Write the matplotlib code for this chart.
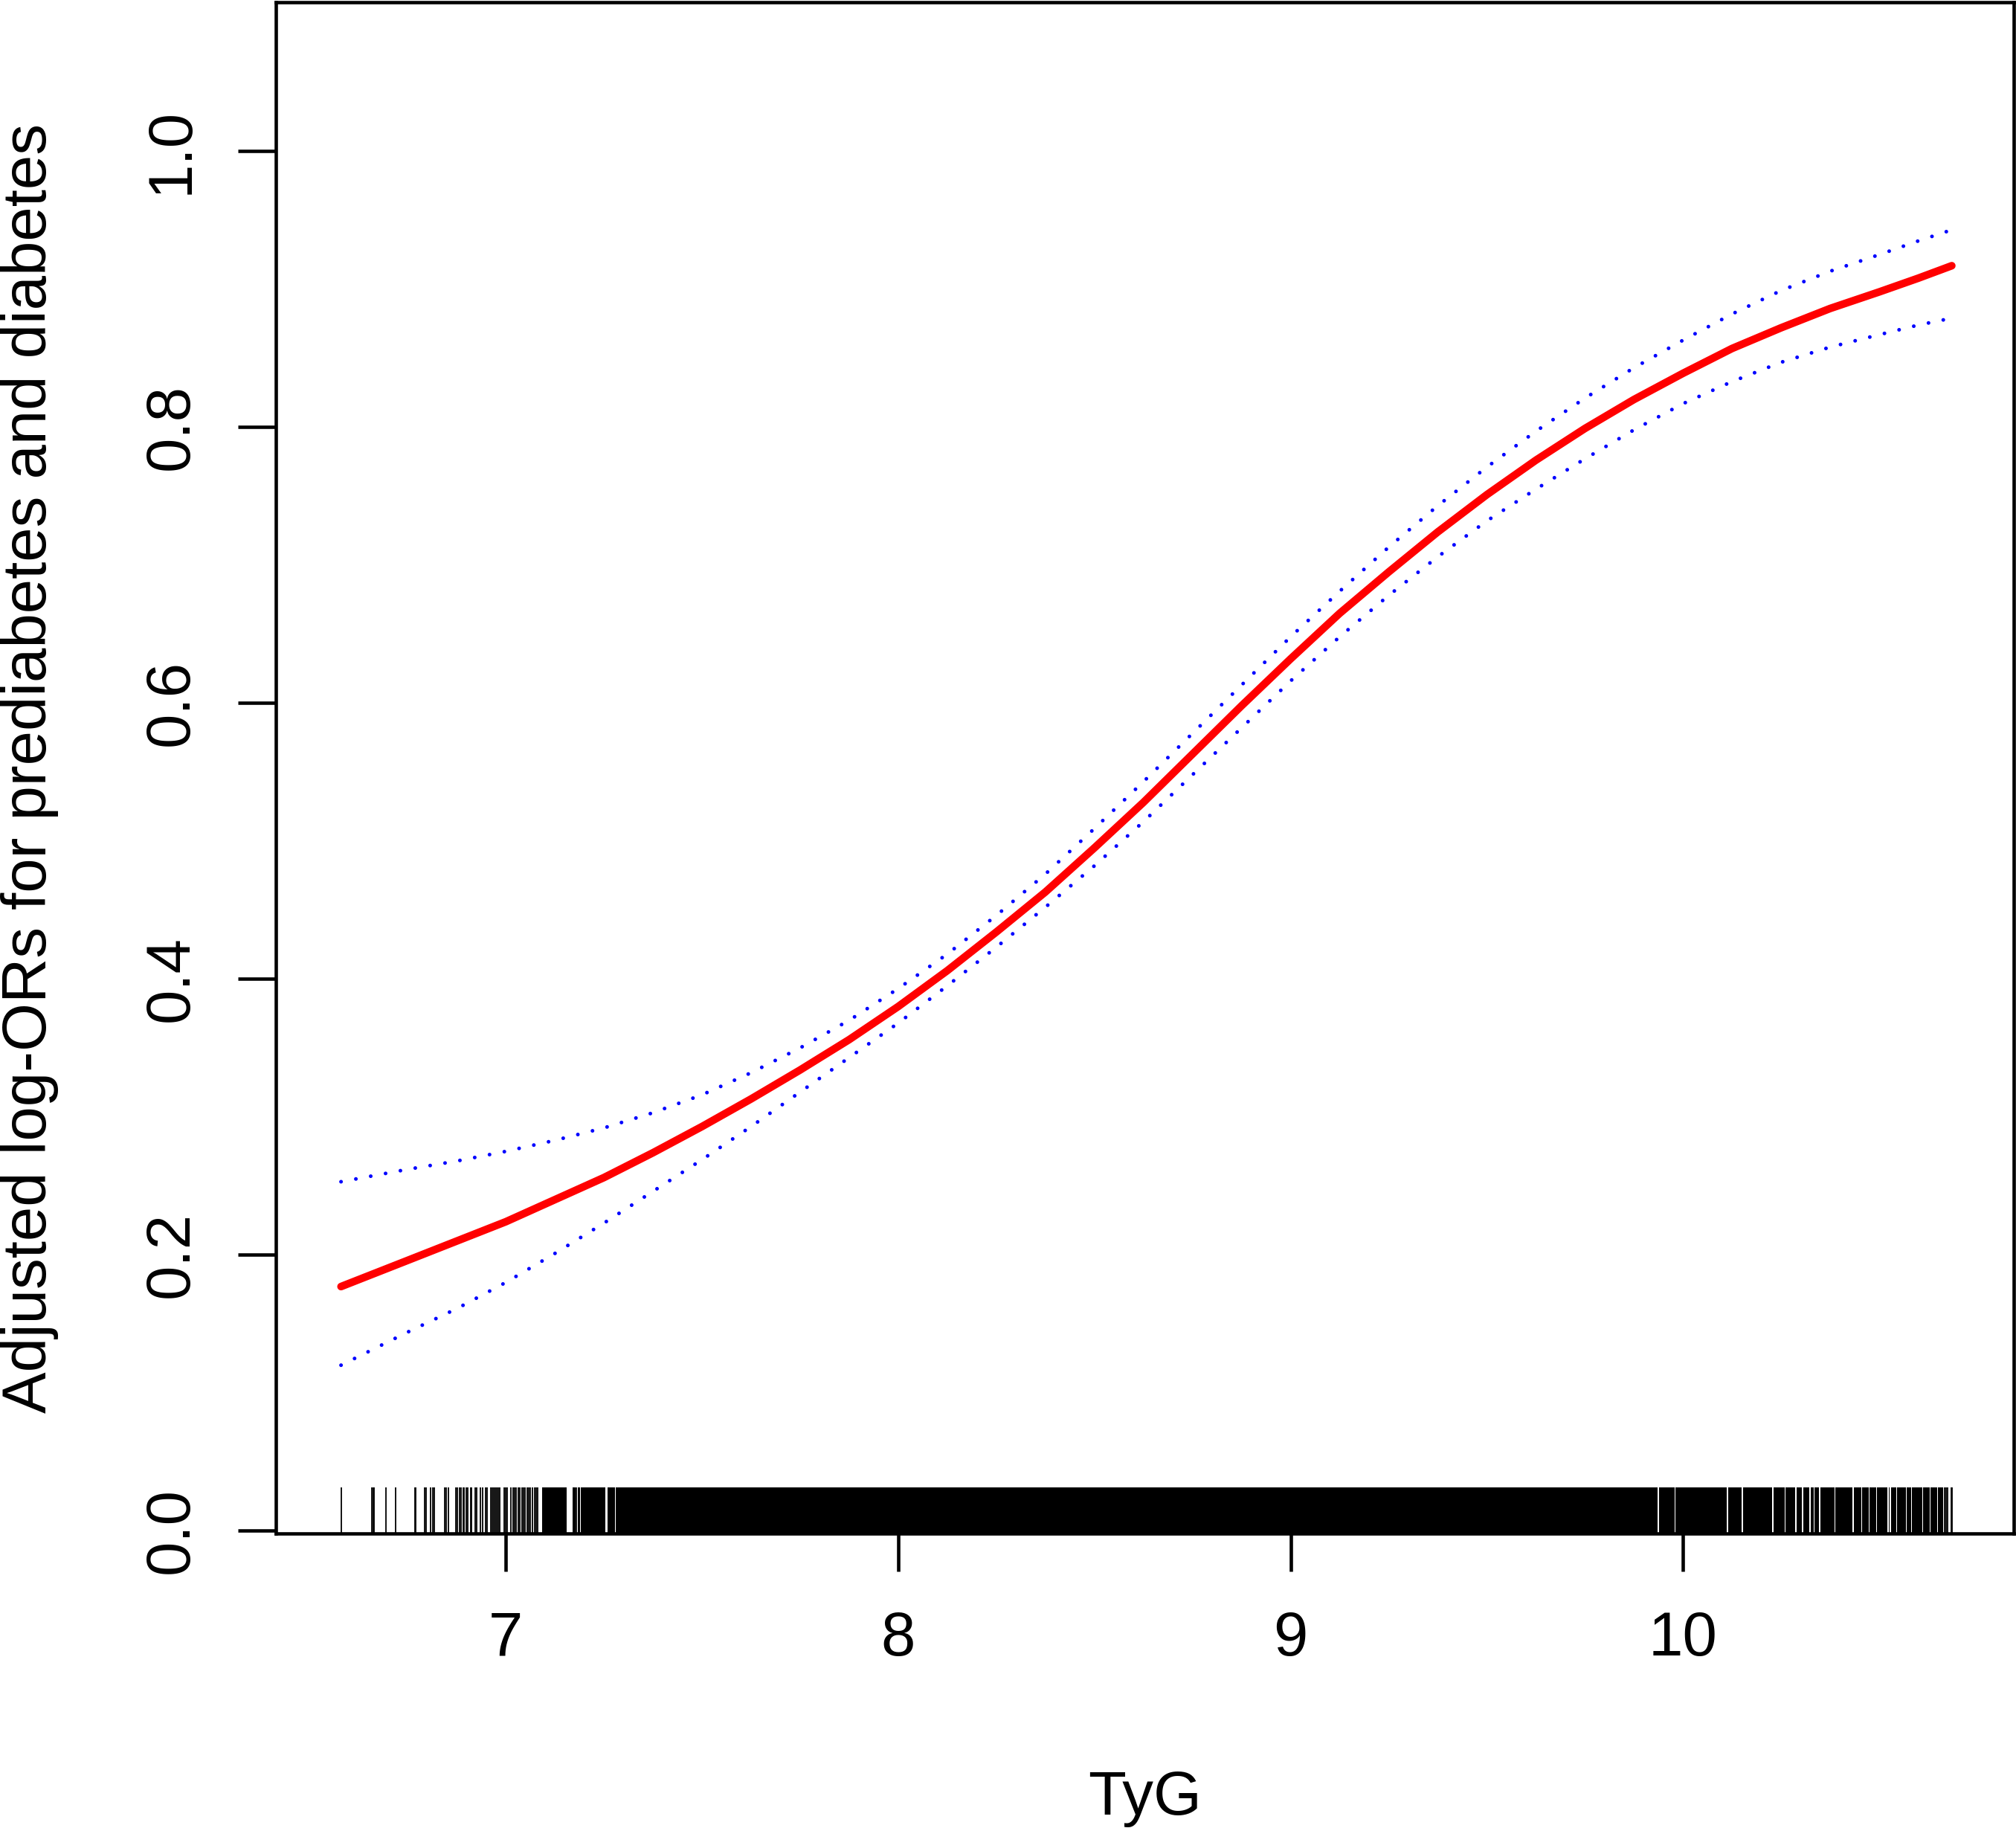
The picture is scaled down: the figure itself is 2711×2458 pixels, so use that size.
import matplotlib
matplotlib.use("Agg")
import matplotlib.pyplot as plt

plt.rcParams['font.family'] = ['Liberation Sans', 'DejaVu Sans']

# ---- data ----
tyg = [6.58, 6.75, 6.875, 7.0, 7.125, 7.25, 7.375, 7.5, 7.625, 7.75, 7.875,
       8.0, 8.125, 8.25, 8.375, 8.5, 8.625, 8.75, 8.875, 9.0, 9.125, 9.25,
       9.375, 9.5, 9.625, 9.75, 9.875, 10.0, 10.125, 10.25, 10.375, 10.5, 10.6, 10.685]
fit = [0.177, 0.196, 0.210, 0.224, 0.240, 0.256, 0.274, 0.293, 0.313, 0.334, 0.356,
       0.380, 0.406, 0.434, 0.463, 0.495, 0.528, 0.563, 0.598, 0.632, 0.665, 0.695,
       0.724, 0.751, 0.776, 0.799, 0.820, 0.839, 0.857, 0.872, 0.886, 0.898, 0.908, 0.917]
upper = [0.253, 0.262, 0.268, 0.275, 0.283, 0.292, 0.303, 0.316, 0.332, 0.350, 0.370,
         0.393, 0.418, 0.446, 0.476, 0.509, 0.543, 0.578, 0.613, 0.648, 0.681, 0.713,
         0.743, 0.771, 0.797, 0.821, 0.843, 0.863, 0.882, 0.899, 0.913, 0.925, 0.935, 0.943]
lower = [0.120, 0.144, 0.161, 0.180, 0.201, 0.223, 0.246, 0.269, 0.293, 0.318, 0.343,
         0.368, 0.395, 0.423, 0.452, 0.482, 0.514, 0.548, 0.582, 0.616, 0.648, 0.678,
         0.706, 0.732, 0.755, 0.777, 0.798, 0.817, 0.833, 0.847, 0.858, 0.867, 0.874, 0.879]

# rug: individual observations that can be told apart
rug_single = [6.581, 6.658, 6.662, 6.665, 6.695, 6.720, 6.768, 6.771, 6.793, 6.797,
              6.809, 6.814, 6.818, 6.845, 6.848, 6.853, 6.872, 6.876, 6.882, 6.886,
              6.891, 6.894, 6.899, 6.903, 6.910, 6.913, 6.922, 6.926, 6.935, 6.940,
              6.949, 6.953, 6.962, 6.966, 6.970, 6.973, 6.977, 6.981, 6.985, 6.995,
              6.999, 7.004, 7.013, 7.018, 7.023, 7.027, 7.032, 7.036, 7.041, 7.045,
              7.049, 7.054, 7.058, 7.063, 7.068, 7.073, 7.077, 7.081, 7.180,
              10.667, 10.671, 10.675, 10.683, 10.686]
# rug: stretches where observations are so dense the ticks merge
rug_band_start = [7.093, 7.171, 7.184, 7.191, 7.259, 7.281, 9.939, 9.981, 10.115, 10.153,
                  10.231, 10.262, 10.289, 10.306, 10.325, 10.336, 10.350, 10.389, 10.435,
                  10.457, 10.476, 10.495, 10.524, 10.530, 10.546, 10.571, 10.584, 10.612,
                  10.631, 10.650]
rug_band_end = [7.155, 7.177, 7.189, 7.253, 7.278, 9.936, 9.978, 10.112, 10.150, 10.228,
                10.259, 10.286, 10.303, 10.322, 10.333, 10.347, 10.386, 10.432, 10.454,
                10.473, 10.492, 10.521, 10.527, 10.543, 10.568, 10.581, 10.609, 10.628,
                10.647, 10.663]

x_ticks = [7, 8, 9, 10]
y_ticks = [0.0, 0.2, 0.4, 0.6, 0.8, 1.0]
y_tick_labels = ["0.0", "0.2", "0.4", "0.6", "0.8", "1.0"]
x_label = "TyG"
y_label = "Adjusted log-ORs for prediabetes and diabetes"

# ---- figure ----
W, H = 2711, 2458
fig = plt.figure(figsize=(W / 100, H / 100), dpi=100)
left, right, top, bottom = 371, 2708, 3, 2062
ax = fig.add_axes([left / W, 1 - bottom / H, (right - left) / W, (bottom - top) / H])

ax.set_xlim(6.414, 10.843)
ax.set_ylim(-0.002, 1.108)

ax.plot(tyg, upper, color='#0000FF', linewidth=3.6,
        linestyle=(0, (0.01, 4.05)), dash_capstyle='round', solid_capstyle='round')
ax.plot(tyg, lower, color='#0000FF', linewidth=3.6,
        linestyle=(0, (0.01, 4.05)), dash_capstyle='round', solid_capstyle='round')
ax.plot(tyg, fit, color='#FF0000', linewidth=7.4, solid_capstyle='round',
        solid_joinstyle='round')

# rug
ax.vlines(rug_single, 0, 0.03, transform=ax.get_xaxis_transform(),
          color='black', linewidth=1.3)
for s, e in zip(rug_band_start, rug_band_end):
    ax.axvspan(s, e, ymin=0, ymax=0.03, color='black', linewidth=0)

ax.set_xticks(x_ticks)
ax.set_xticklabels([str(v) for v in x_ticks])
ax.set_yticks(y_ticks)
ax.set_yticklabels(y_tick_labels)

for sp in ax.spines.values():
    sp.set_linewidth(3.3)
    sp.set_color('black')

ax.tick_params(axis='both', direction='out', length=37, width=3.3,
               labelsize=60, colors='black')
ax.tick_params(axis='x', pad=37)
ax.tick_params(axis='y', pad=36, labelrotation=90)
for lab in ax.get_yticklabels():
    lab.set_va('center')

ax.set_xlabel(x_label, fontsize=60, va='baseline')
ax.xaxis.set_label_coords(0.5, -(2440 - bottom) / (bottom - top))
ax.set_ylabel(y_label, fontsize=60, va='baseline')
ax.yaxis.set_label_coords(-(left - 62) / (right - left), 0.5)

fig.savefig("out.png", dpi=100)
